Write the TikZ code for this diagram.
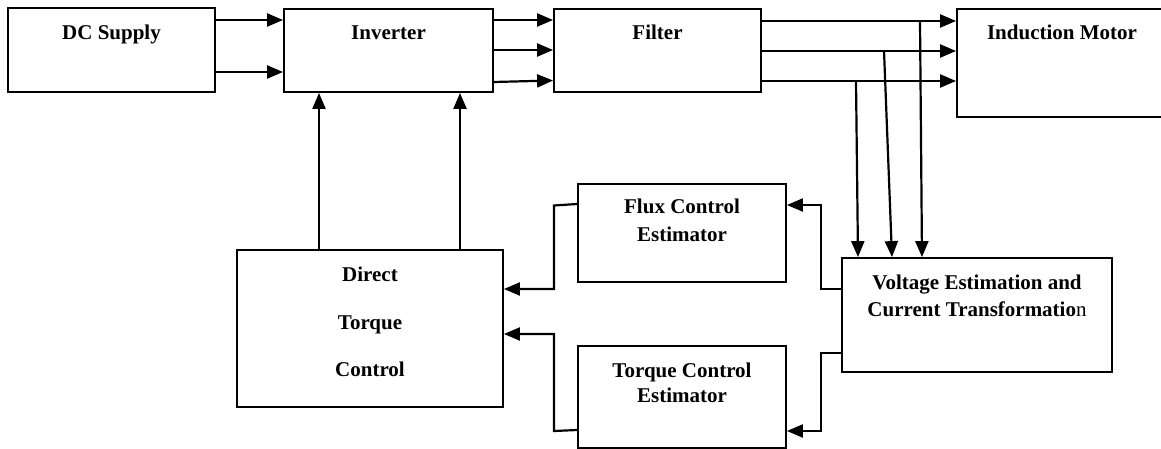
\documentclass[tikz,border=0pt]{standalone}
\usepackage{fontspec}
\setmainfont{Liberation Serif}
\usetikzlibrary{arrows.meta}
\begin{document}
\begin{tikzpicture}[x=1pt,y=-1pt,
  blk/.style={draw, line width=1.8pt, inner sep=0pt},
  lbl/.style={font=\fontsize{21}{27}\selectfont\bfseries, anchor=base, inner sep=0pt},
  con/.style={line width=2.2pt, -{Triangle[length=16pt,width=13pt]}}]
\useasboundingbox (0,0) rectangle (1161,449);
% boxes
\node[blk, minimum width=207pt, minimum height=84pt] (dc)   at (111.5,50) {};
\node[blk, minimum width=209pt, minimum height=83pt] (inv)  at (388.5,50.5) {};
\node[blk, minimum width=207pt, minimum height=83pt] (flt)  at (657.5,50.5) {};
\node[blk, minimum width=206pt, minimum height=108pt] (mot) at (1060,63) {};
\node[blk, minimum width=266pt, minimum height=157pt] (dtc) at (370,328.5) {};
\node[blk, minimum width=208pt, minimum height=98pt] (flux) at (682,233) {};
\node[blk, minimum width=208pt, minimum height=102pt] (trq) at (682,397) {};
\node[blk, minimum width=270pt, minimum height=114pt] (ve)  at (977,315) {};
% labels
\node[lbl] (tdc)  at (111.5,40) {DC Supply};
\node[lbl] (tinv) at (388.5,40) {Inverter};
\node[lbl] (tflt) at (657.5,40) {Filter};
\node[lbl] (tmot) at (1062,40) {Induction Motor};
\node[lbl] (td1)  at (370,281) {Direct};
\node[lbl] (td2)  at (370,329) {Torque};
\node[lbl] (td3)  at (370,376) {Control};
\node[lbl] (tf1)  at (682,214) {Flux Control};
\node[lbl] (tf2)  at (682,241) {Estimator};
\node[lbl] (tt1)  at (682,377) {Torque Control};
\node[lbl] (tt2)  at (682,402) {Estimator};
\node[lbl] (tv1)  at (977,289) {Voltage Estimation and};
\node[lbl] (tv2)  at (977,316) {Current Transformatio\mdseries n};
% forward path
\draw[con] (dc.east|-0,20) -- (inv.west|-0,20);
\draw[con] (dc.east|-0,72) -- (inv.west|-0,72);
\draw[con] (inv.east|-0,20) -- (flt.west|-0,20);
\draw[con] (inv.east|-0,50) -- (flt.west|-0,50);
\draw[con] (inv.east|-0,82) -- (flt.west|-0,80.5);
\draw[con] (flt.east|-0,21) -- (mot.west|-0,21);
\draw[con] (flt.east|-0,51) -- (mot.west|-0,51);
\draw[con] (flt.east|-0,81) -- (mot.west|-0,81);
% taps
\coordinate (tap1) at (856,81);
\coordinate (tap2) at (884,51);
\coordinate (tap3) at (920,21);
\draw[con] (tap1) -- (ve.north -| 858,0);
\draw[con] (tap2) -- (ve.north -| 892,0);
\draw[con] (tap3) -- (ve.north -| 922,0);
% control to inverter
\draw[con] (dtc.north -| 319,0) -- (inv.south -| 319,0);
\draw[con] (dtc.north -| 460,0) -- (inv.south -| 460,0);
% feedback
\draw[con] (ve.west|-0,289) -- (821,289) -- (821,205) -- (flux.east|-0,205);
\draw[con] (ve.west|-0,353) -- (821,353) -- (821,431) -- (trq.east|-0,431);
\draw[con] (flux.west|-0,204) -- (554,205.5) -- (554,289) -- (dtc.east|-0,289);
\draw[con] (trq.west|-0,430) -- (554,431) -- (554,334) -- (dtc.east|-0,334);
\end{tikzpicture}
\end{document}
